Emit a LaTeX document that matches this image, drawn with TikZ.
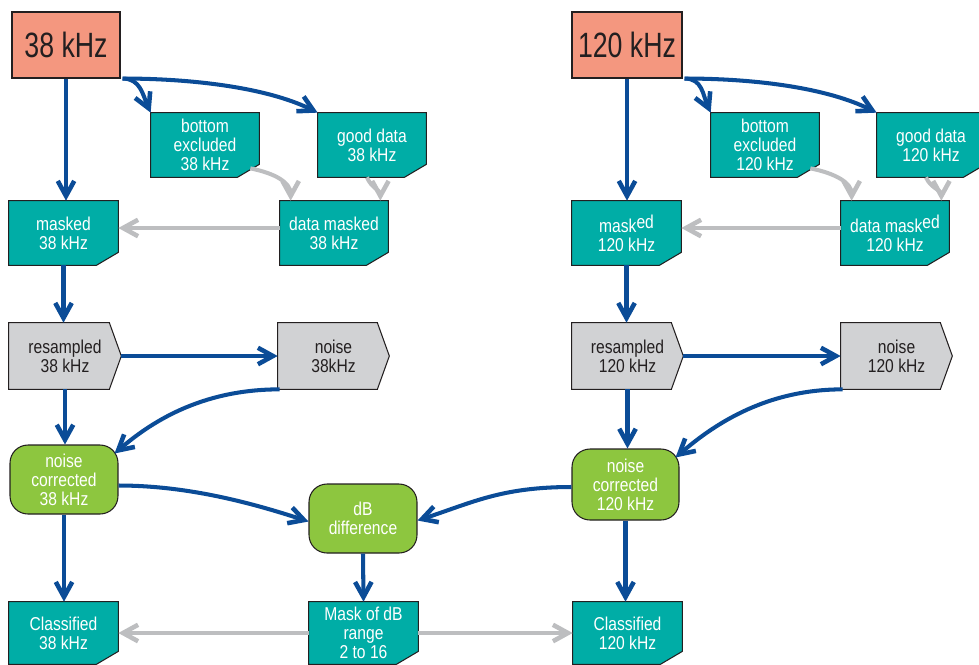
\documentclass[tikz,border=0pt]{standalone}
\usepackage{fontspec}
\setmainfont{Liberation Sans}[FakeStretch=0.84]
\newfontfamily\titlefont{Liberation Sans}[FakeStretch=0.76]
\usetikzlibrary{arrows.meta, positioning, calc, backgrounds}
\tikzset{every node/.style={font=\fontsize{10.6}{10.8}\selectfont}}

\definecolor{salmon}{HTML}{F4977F}
\definecolor{tealbox}{HTML}{00ADA6}
\definecolor{greybox}{HTML}{D1D2D4}
\definecolor{greenbox}{HTML}{8DC63F}
\definecolor{bluearrow}{HTML}{0B4C97}
\definecolor{greyarrow}{HTML}{BDBEC0}
\definecolor{darktext}{HTML}{231F20}

\begin{document}
\begin{tikzpicture}[x=0.02cm, y=-0.02cm]
  \tikzstyle{source} = [rectangle, minimum width=2.16cm, minimum height=1.32cm, draw=darktext, line width=0.6pt, fill=salmon, text=darktext, font=\titlefont\fontsize{20}{22}\selectfont]
  \tikzstyle{databox} = [rectangle, minimum width=2.16cm, minimum height=1.28cm, inner sep=0pt, align=center, text=white]
  \tikzstyle{signalbox} = [rectangle, minimum width=2.22cm, minimum height=1.32cm, inner sep=0pt, align=center, text=darktext]
  \tikzstyle{calcbox} = [rectangle, rounded corners=0.36cm, minimum width=2.16cm, minimum height=1.38cm, inner sep=0pt, align=center, draw=darktext, line width=0.6pt, fill=greenbox, text=white]
  \tikzstyle{arrow} = [line width=2.3pt, bluearrow, -{Straight Barb[length=0.3cm, width=0.33cm, line width=2.6pt]}]
  \tikzstyle{greyline} = [arrow, greyarrow]
  \useasboundingbox (0,0) rectangle (979,664);
  % 38 kHz column
  \node (f38) [source] at (66,45) {38 kHz};
  \node (bex38) [databox] at (205,145) {bottom\\excluded\\38 kHz};
  \node (good38) [databox] at (372,145) {good data\\38 kHz};
  \node (masked38) [databox, minimum width=2.18cm] at (63.5,233) {masked\\38 kHz};
  \node (dm38) [databox] at (334,233) {data masked\\38 kHz};
  \node (res38) [signalbox, minimum width=2.24cm] at (65,356) {resampled\\38 kHz};
  \node (noise38) [signalbox] at (333.5,356) {noise\\38kHz};
  \node (nc38) [calcbox] at (64,479.5) {noise\\corrected\\38 kHz};
  \node (cl38) [databox, minimum width=2.18cm, minimum height=1.24cm] at (63.5,633) {Classified\\38 kHz};
  % shared
  \node (dbd) [calcbox] at (363,518.5) {dB\\difference};
  \node (mask) [databox, minimum width=2.18cm, minimum height=1.24cm] at (363.5,633) {Mask of dB\\range\\2 to 16};
  % 120 kHz column
  \node (f120) [source, minimum width=2.2cm] at (627,45) {120 kHz};
  \node (bex120) [databox] at (765,145) {bottom\\excluded\\120 kHz};
  \node (good120) [databox] at (931,145) {good data\\120 kHz};
  \node (masked120) [databox, minimum width=2.18cm] at (626.5,233) {mask\raisebox{0.2em}{ed}\\120 kHz};
  \node (dm120) [databox] at (895,233) {data mask\raisebox{0.2em}{ed}\\120 kHz};
  \node (res120) [signalbox, minimum width=2.22cm] at (627.5,356) {resampled\\120 kHz};
  \node (noise120) [signalbox] at (896.5,356) {noise\\120 kHz};
  \node (nc120) [calcbox, minimum width=2.14cm, minimum height=1.42cm] at (625.5,484.5) {noise\\corrected\\120 kHz};
  \node (cl120) [databox, minimum width=2.18cm, minimum height=1.24cm] at (627.5,633) {Classified\\120 kHz};

  \begin{scope}[on background layer]
    \foreach \n in {bex38, good38, masked38, dm38, cl38, mask, bex120, good120, masked120, dm120, cl120}
      \draw [draw=darktext, line width=0.6pt, fill=tealbox] (\n.north west) -- (\n.north east) -- ($(\n.south east)+(0,-13)$) -- ($(\n.south east)+(-22,0)$) -- (\n.south west) -- cycle;
    \foreach \n in {res38, noise38, res120, noise120}
      \draw [draw=darktext, line width=0.6pt, fill=greybox] (\n.north west) -- ($(\n.north east)+(-12,0)$) -- (\n.east) -- ($(\n.south east)+(-12,0)$) -- (\n.south west) -- cycle;
  \end{scope}

  \draw [arrow] (f38.south) -- (f38.south |- masked38.north);
  \draw [arrow] ($(f38.south east)+(2,0)$) .. controls +(18,0) and +(-8,-18) .. (bex38.north west);
  \draw [arrow] ($(f38.south east)+(2,0)$) .. controls +(70,0) and +(-50,-25) .. (good38.north west);
  \draw [greyline] ($(bex38.south east)+(-9,-9)$) .. controls +(25,5) and +(0,-18) .. ($(dm38.north west)+(11,0)$);
  \draw [greyline] ($(good38.south)+(-5,0)$) .. controls +(4,10) and +(0,-10) .. ($(dm38.north east)+(-8,0)$);
  \draw [greyline] ($(dm38.west)+(0,-5)$) -- ($(masked38.east)+(0,-5)$);
  \draw [arrow] (masked38.south) -- (masked38.south |- res38.north);
  \draw [arrow] (res38.east) -- (noise38.west);
  \draw [arrow] ($(noise38.south west)+(2,0)$) .. controls +(-80,0) and +(35,-30) .. ($(nc38.north east)+(-4,9)$);
  \draw [arrow] (res38.south) -- (res38.south |- nc38.north);
  \draw [arrow] ($(nc38.east)+(0,6)$) .. controls +(70,0) and +(-55,-18) .. ($(dbd.west)+(0,3)$);
  \draw [arrow] (nc38.south) -- (nc38.south |- cl38.north);
  \draw [arrow] (dbd.south) -- (mask.north);
  \draw [greyline] (mask.west) -- (cl38.east);
  \draw [greyline] (mask.east) -- (cl120.west);
  \draw [arrow] ($(nc120.west)+(0,2.5)$) .. controls +(-70,0) and +(55,-18) .. ($(dbd.east)+(0,2)$);
  \draw [arrow] (f120.south) -- (f120.south |- masked120.north);
  \draw [arrow] ($(f120.south east)+(2,0)$) .. controls +(18,0) and +(-8,-18) .. (bex120.north west);
  \draw [arrow] ($(f120.south east)+(2,0)$) .. controls +(70,0) and +(-50,-25) .. (good120.north west);
  \draw [greyline] ($(bex120.south east)+(-9,-9)$) .. controls +(25,5) and +(0,-18) .. ($(dm120.north west)+(11,0)$);
  \draw [greyline] ($(good120.south)+(-5,0)$) .. controls +(4,10) and +(0,-10) .. ($(dm120.north east)+(-8,0)$);
  \draw [greyline] ($(dm120.west)+(0,-5)$) -- ($(masked120.east)+(0,-5)$);
  \draw [arrow] (masked120.south) -- (masked120.south |- res120.north);
  \draw [arrow] (res120.east) -- (noise120.west);
  \draw [arrow] ($(noise120.south west)+(2,0)$) .. controls +(-80,0) and +(35,-30) .. ($(nc120.north east)+(-4,9)$);
  \draw [arrow] (res120.south) -- (res120.south |- nc120.north);
  \draw [arrow] (nc120.south) -- (nc120.south |- cl120.north);
\end{tikzpicture}
\end{document}
